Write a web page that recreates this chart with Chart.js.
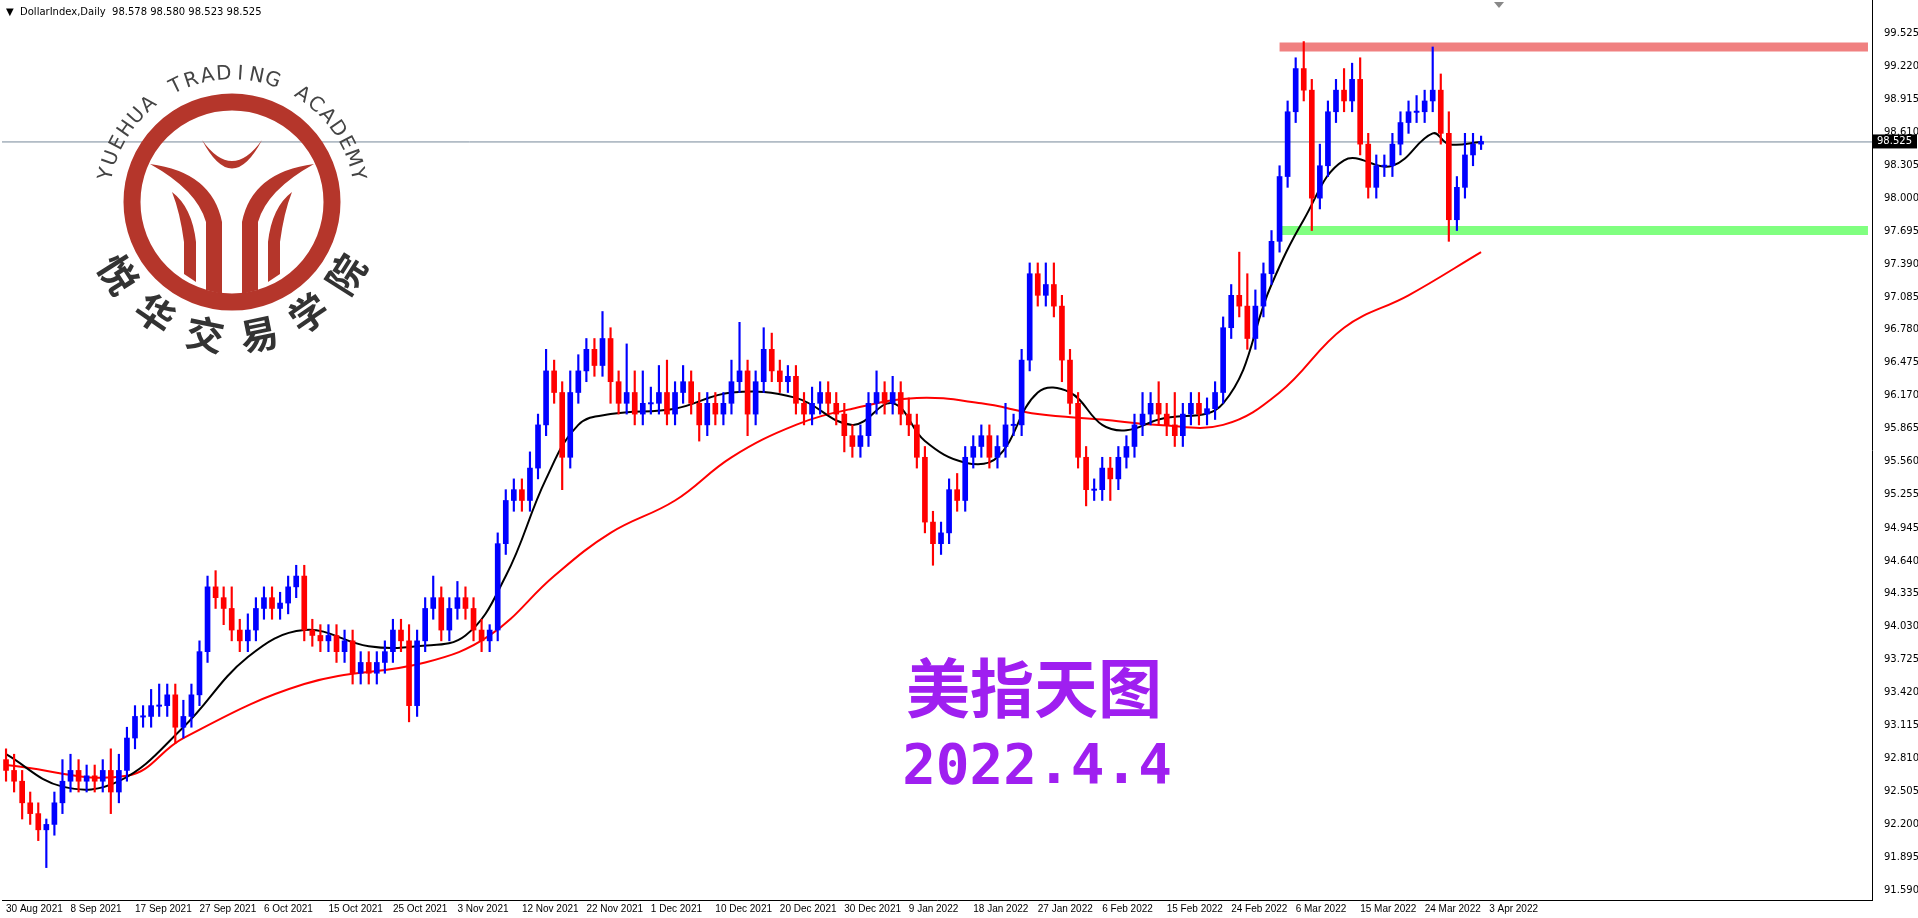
<!DOCTYPE html>
<html><head><meta charset="utf-8">
<script src="https://cdn.jsdelivr.net/npm/chart.js@4/dist/chart.umd.min.js"></script>
<style>html,body{margin:0;padding:0;background:#fff;}canvas{display:block}</style>
</head><body><canvas id="c" width="1918" height="918"></canvas>
<script>
const dateLabels=["30 Aug 2021","8 Sep 2021","17 Sep 2021","27 Sep 2021","6 Oct 2021","15 Oct 2021","25 Oct 2021","3 Nov 2021","12 Nov 2021","22 Nov 2021","1 Dec 2021","10 Dec 2021","20 Dec 2021","30 Dec 2021","9 Jan 2022","18 Jan 2022","27 Jan 2022","6 Feb 2022","15 Feb 2022","24 Feb 2022","6 Mar 2022","15 Mar 2022","24 Mar 2022","3 Apr 2022"];
const tickValues=[91.590,91.895,92.200,92.505,92.810,93.115,93.420,93.725,94.030,94.335,94.640,94.945,95.255,95.560,95.865,96.170,96.475,96.780,97.085,97.390,97.695,98.000,98.305,98.610,98.915,99.220,99.525];
const firstOpen=92.8;
const closes=[92.7,92.6,92.4,92.3,92.15,92.2,92.4,92.6,92.7,92.6,
92.65,92.6,92.7,92.5,92.7,93.0,93.2,93.2,93.3,93.3,
93.4,93.1,93.2,93.4,93.8,94.4,94.3,94.2,94.0,93.9,
94.0,94.2,94.3,94.2,94.25,94.4,94.5,94.0,93.95,93.9,
93.95,93.8,93.9,93.6,93.7,93.6,93.7,93.8,94.0,93.9,
93.3,93.9,94.2,94.3,94.0,94.2,94.3,94.2,94.0,93.9,
94.0,94.8,95.2,95.3,95.2,95.5,95.9,96.4,96.2,95.6,
96.2,96.4,96.6,96.45,96.7,96.3,96.1,96.2,96.0,96.1,
96.1,96.2,96.0,96.2,96.3,96.1,95.9,96.1,96.0,96.1,
96.3,96.4,96.0,96.3,96.6,96.4,96.3,96.35,96.1,96.0,
96.1,96.2,96.1,96.0,95.8,95.7,95.8,96.1,96.2,96.1,
96.2,96.0,95.9,95.6,95.0,94.8,94.9,95.3,95.2,95.6,
95.7,95.8,95.6,95.7,95.9,95.9,96.5,97.3,97.1,97.2,
97.0,96.5,96.1,95.6,95.3,95.3,95.5,95.4,95.6,95.7,
95.9,96.0,96.1,96.0,95.9,95.8,96.0,96.1,96.0,96.05,
96.2,96.8,97.1,97.0,96.7,97.0,97.3,97.6,98.2,98.8,
99.2,99.0,98.0,98.3,98.8,99.0,98.9,99.1,98.5,98.1,
98.3,98.3,98.5,98.7,98.8,98.8,98.9,99.0,98.6,97.8,
98.1,98.4,98.5,98.525];
const upWick=[0.1,0.15,0.1,0.1,0.1,0.05,0.1,0.2,0.15,0.1,
0.1,0.1,0.1,0.2,0.15,0.1,0.1,0.1,0.15,0.2,
0.1,0.1,0.15,0.1,0.1,0.1,0.15,0.1,0.2,0.1,
0.15,0.1,0.1,0.1,0.1,0.1,0.1,0.1,0.1,0.1,
0.1,0.1,0.1,0.1,0.1,0.1,0.1,0.1,0.1,0.1,
0.15,0.1,0.1,0.2,0.1,0.1,0.15,0.1,0.1,0.1,
0.05,0.1,0.1,0.1,0.1,0.15,0.1,0.2,0.1,0.1,
0.2,0.15,0.1,0.1,0.25,0.1,0.1,0.45,0.2,0.3,
0.15,0.25,0.3,0.1,0.15,0.1,0.1,0.1,0.1,0.1,
0.2,0.45,0.1,0.1,0.2,0.15,0.1,0.1,0.1,0.1,
0.15,0.1,0.1,0.1,0.1,0.1,0.1,0.1,0.2,0.1,
0.15,0.1,0.15,0.1,0.1,0.1,0.1,0.1,0.15,0.1,
0.1,0.1,0.1,0.1,0.2,0.1,0.1,0.1,0.1,0.2,
0.2,0.1,0.1,0.1,0.1,0.1,0.1,0.1,0.1,0.1,
0.1,0.2,0.1,0.2,0.1,0.3,0.1,0.1,0.1,0.1,
0.1,0.1,0.1,0.4,0.3,0.15,0.1,0.1,0.1,0.1,
0.1,0.25,0.1,0.2,0.1,0.1,0.2,0.15,0.2,0.1,
0.1,0.1,0.1,0.1,0.1,0.15,0.1,0.4,0.15,0.2,
0.1,0.2,0.1,0.05];
const dnWick=[0.1,0.1,0.15,0.1,0.1,0.35,0.1,0.1,0.1,0.1,
0.1,0.1,0.1,0.2,0.1,0.1,0.1,0.1,0.1,0.1,
0.1,0.15,0.1,0.1,0.1,0.1,0.1,0.15,0.1,0.1,
0.1,0.1,0.1,0.1,0.1,0.1,0.1,0.1,0.1,0.1,
0.1,0.1,0.1,0.1,0.1,0.1,0.1,0.1,0.1,0.1,
0.15,0.1,0.1,0.1,0.1,0.1,0.1,0.1,0.1,0.1,
0.1,0.1,0.1,0.1,0.1,0.1,0.1,0.1,0.1,0.3,
0.1,0.1,0.1,0.1,0.1,0.2,0.1,0.1,0.1,0.1,
0.1,0.1,0.1,0.1,0.1,0.1,0.15,0.1,0.1,0.1,
0.1,0.1,0.2,0.1,0.1,0.1,0.1,0.1,0.1,0.1,
0.1,0.1,0.1,0.1,0.15,0.1,0.1,0.1,0.1,0.1,
0.1,0.1,0.1,0.1,0.1,0.2,0.1,0.1,0.1,0.1,
0.1,0.1,0.1,0.1,0.1,0.1,0.1,0.1,0.1,0.1,
0.1,0.2,0.1,0.1,0.15,0.1,0.1,0.2,0.1,0.1,
0.1,0.1,0.1,0.1,0.1,0.1,0.1,0.1,0.1,0.1,
0.1,0.1,0.1,0.1,0.1,0.1,0.1,0.1,0.1,0.1,
0.1,0.1,0.3,0.1,0.1,0.1,0.1,0.1,0.1,0.1,
0.1,0.1,0.1,0.1,0.1,0.1,0.1,0.1,0.1,0.2,
0.1,0.1,0.1,0.05];
// sparse moving-average readings [barIndex, value]
const maFast=[[0,92.85],[7,92.55],[14,92.6],[22,93.1],[30,93.75],[37,94.0],[45,93.85],[51,93.85],[57,93.95],[62,94.5],[67,95.4],[71,95.9],[75,96.0],[83,96.05],[90,96.2],[98,96.15],[105,95.9],[110,96.1],[114,95.75],[119,95.55],[123,95.6],[128,96.2],[132,96.2],[136,95.9],[139,95.85],[143,95.95],[151,96.1],[157,97.2],[161,97.8],[166,98.35],[172,98.3],[177,98.6],[179,98.5],[183,98.52]];
const maSlow=[[0,92.75],[15,92.65],[22,93.0],[37,93.5],[52,93.7],[60,93.95],[68,94.5],[75,94.9],[83,95.2],[90,95.6],[98,95.9],[105,96.05],[113,96.15],[121,96.1],[128,96.0],[136,95.95],[143,95.9],[151,95.9],[158,96.2],[166,96.8],[174,97.1],[183,97.5]];
const resistance=99.4, support=97.7, bandStart=158, lastPrice=98.525;
const totalSlots=232;

const labels=[...Array(totalSlots).keys()];
const opens=closes.map((c,i)=>i===0?firstOpen:closes[i-1]);
const bodies=closes.map((c,i)=>{let o=opens[i];return Math.abs(o-c)<0.01?[o-0.006,o+0.006]:[o,c];});
const wicks=closes.map((c,i)=>[Math.min(opens[i],c)-dnWick[i],Math.max(opens[i],c)+upWick[i]]);
const cols=closes.map((c,i)=>c>=opens[i]?'#0000ff':'#ff0000');
const sparse=a=>{const d=new Array(totalSlots).fill(null);a.forEach(([i,v])=>d[i]=v);return d;};
const band=v=>labels.map(i=>i>=bandStart?v:null);

const deco={id:'deco',
beforeDatasetsDraw(ch){const c=ch.ctx,ys=ch.scales.y,a=ch.chartArea;
 c.save();const y=ys.getPixelForValue(lastPrice);
 c.strokeStyle='#778899';c.lineWidth=1;c.beginPath();c.moveTo(a.left,y+0.5);c.lineTo(a.right,y+0.5);c.stroke();
 const cx=232,cy=202;c.strokeStyle='#b5362b';c.lineWidth=17;c.beginPath();c.arc(cx,cy,100,0,Math.PI*2);c.stroke();
 c.fillStyle='#b5362b';
 for(const s of [-1,1]){c.beginPath();c.moveTo(cx+s*82,cy-38);c.quadraticCurveTo(cx+s*20,cy-30,cx+s*10,cy+20);c.lineTo(cx+s*10,cy+92);c.lineTo(cx+s*26,cy+88);c.lineTo(cx+s*26,cy+20);c.quadraticCurveTo(cx+s*35,cy-12,cx+s*82,cy-38);c.fill();
  c.beginPath();c.moveTo(cx+s*60,cy-10);c.quadraticCurveTo(cx+s*40,cy+5,cx+s*36,cy+40);c.lineTo(cx+s*36,cy+80);c.lineTo(cx+s*48,cy+72);c.lineTo(cx+s*48,cy+40);c.quadraticCurveTo(cx+s*52,cy+10,cx+s*60,cy-10);c.fill();}
 c.beginPath();c.moveTo(cx-30,cy-62);c.quadraticCurveTo(cx,cy-20,cx+30,cy-62);c.quadraticCurveTo(cx,cy-5,cx-30,cy-62);c.fill();
 c.fillStyle='#444';c.font='20px "DejaVu Sans"';c.textAlign='center';c.textBaseline='middle';
 const t='YUEHUA TRADING ACADEMY';const a0=-Math.PI*0.93,a1=-Math.PI*0.07;
 for(let i=0;i<t.length;i++){const an=a0+(a1-a0)*i/(t.length-1);c.save();c.translate(cx+Math.cos(an)*128,cy+Math.sin(an)*128);c.rotate(an+Math.PI/2);c.fillText(t[i],0,0);c.restore();}
 c.fillStyle='#333';c.font='bold 38px "Noto Sans CJK SC"';const z='悦华交易学院';const b0=Math.PI*0.82,b1=Math.PI*0.18;
 for(let i=0;i<z.length;i++){const an=b0+(b1-b0)*i/(z.length-1);c.save();c.translate(cx+Math.cos(an)*135,cy+Math.sin(an)*135);c.rotate(an-Math.PI/2);c.fillText(z[i],0,0);c.restore();}
 c.restore();},
afterDraw(ch){const c=ch.ctx,ys=ch.scales.y,a=ch.chartArea;c.save();
 const y=ys.getPixelForValue(lastPrice);
 c.fillStyle='#000';c.fillRect(a.right+1,y-7,44,14);c.fillStyle='#fff';c.font='10px "DejaVu Sans"';c.textBaseline='middle';c.textAlign='left';c.fillText(lastPrice.toFixed(3),a.right+5,y);
 c.fillStyle='#000';c.fillText('▼  DollarIndex,Daily  98.578 98.580 98.523 98.525',6,12);
 c.fillStyle='#888';c.beginPath();c.moveTo(1494,2);c.lineTo(1504,2);c.lineTo(1499,8);c.fill();
 c.fillStyle='#9f1ff0';c.textAlign='center';c.font='bold 64px "Noto Sans CJK SC"';c.fillText('美指天图',1034,688);
 c.font='bold 56px "DejaVu Sans Mono"';c.fillText('2022.4.4',1037,768);
 c.restore();}};

new Chart(document.getElementById('c'),{
 data:{labels,datasets:[
  {type:'line',data:band(resistance),borderColor:'#f08080',borderWidth:9,pointRadius:0,order:5},
  {type:'line',data:band(support),borderColor:'#80ff80',borderWidth:9,pointRadius:0,order:5},
  {type:'line',data:sparse(maSlow),borderColor:'#ff0000',borderWidth:2,pointRadius:0,spanGaps:true,tension:0.4,order:4},
  {type:'line',data:sparse(maFast),borderColor:'#000',borderWidth:2,pointRadius:0,spanGaps:true,tension:0.4,order:3},
  {type:'bar',data:wicks,backgroundColor:cols,barThickness:1.5,grouped:false,order:2},
  {type:'bar',data:bodies,backgroundColor:cols,barThickness:5,grouped:false,order:1}
 ]},
 options:{responsive:false,animation:false,
  layout:{padding:{left:2,top:0,right:0,bottom:0}},
  plugins:{legend:{display:false},tooltip:{enabled:false}},
  scales:{
   x:{type:'category',offset:true,grid:{display:false,tickLength:2},border:{display:true,color:'#000'},
      afterFit:ax=>{ax.height=18;ax.paddingLeft=0;ax.paddingRight=0;},
      ticks:{autoSkip:false,maxRotation:0,align:'start',padding:1,color:'#000',font:{size:10,family:'Liberation Sans'},
       callback:(v,i)=>i%8===0&&dateLabels[i/8]?dateLabels[i/8]:''}},
   y:{position:'right',min:91.50,max:99.835,grid:{display:false},border:{display:true,color:'#000'},
      afterBuildTicks:ax=>{ax.ticks=tickValues.map(v=>({value:v}));},
      afterFit:ax=>{ax.width=46;ax.paddingTop=0;ax.paddingBottom=0;},
      ticks:{color:'#000',padding:4,font:{size:10,family:'DejaVu Sans'},callback:v=>Number(v).toFixed(3)}}
  }},
 plugins:[deco]});
</script></body></html>
